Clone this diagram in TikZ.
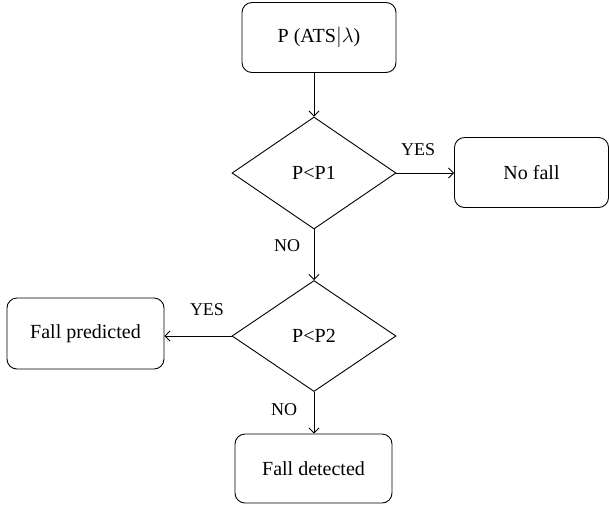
\documentclass[tikz,border=0pt]{standalone}
\usepackage{fontspec}
\setmainfont{Liberation Serif}
\usetikzlibrary{shapes.geometric,arrows.meta}
\begin{document}
\begin{tikzpicture}[x=1pt,y=-1pt,
  box/.style={draw, rounded corners=10pt, line width=0.9pt, minimum width=154pt, minimum height=70pt, inner sep=0pt, font=\fontsize{20}{24}\selectfont},
  dia/.style={draw, diamond, line width=0.9pt, minimum width=164pt, minimum height=112pt, inner sep=0pt},
  dtxt/.style={font=\fontsize{20}{24}\selectfont},
  arr/.style={-{Straight Barb[length=5pt,width=10pt]}, line width=0.9pt},
  lbl/.style={font=\fontsize{18}{21}\selectfont, inner sep=0pt}]
\useasboundingbox (0,0) rectangle (609,504);
\node[box] (top) at (319,37.5) {P (ATS$|\lambda$)};
\node[dia] (d1) at (314,173) {};
\node[dtxt] at (d1) {P<P1};
\node[box] (nf) at (531.5,172.5) {No fall};
\node[dia, minimum height=111pt] (d2) at (314,336) {};
\node[dtxt] at (d2) {P<P2};
\node[box, minimum width=157pt, minimum height=71pt] (fp) at (85.5,333.5) {Fall predicted};
\node[box, minimum width=157pt, minimum height=69pt] (fd) at (313.5,468.5) {Fall detected};
\draw[arr] (d1.north |- top.south) -- (d1.north);
\draw[arr] (d1.east) -- (nf.west |- d1.east);
\draw[arr] (d1.south) -- (d2.north);
\draw[arr] (d2.west) -- (fp.east |- d2.west);
\draw[arr] (d2.south) -- (fd.north -| d2.south);
\node[lbl] at (418,150) {YES};
\node[lbl] at (207,310) {YES};
\node[lbl] at (287,246) {NO};
\node[lbl] at (284,410) {NO};
\end{tikzpicture}
\end{document}
